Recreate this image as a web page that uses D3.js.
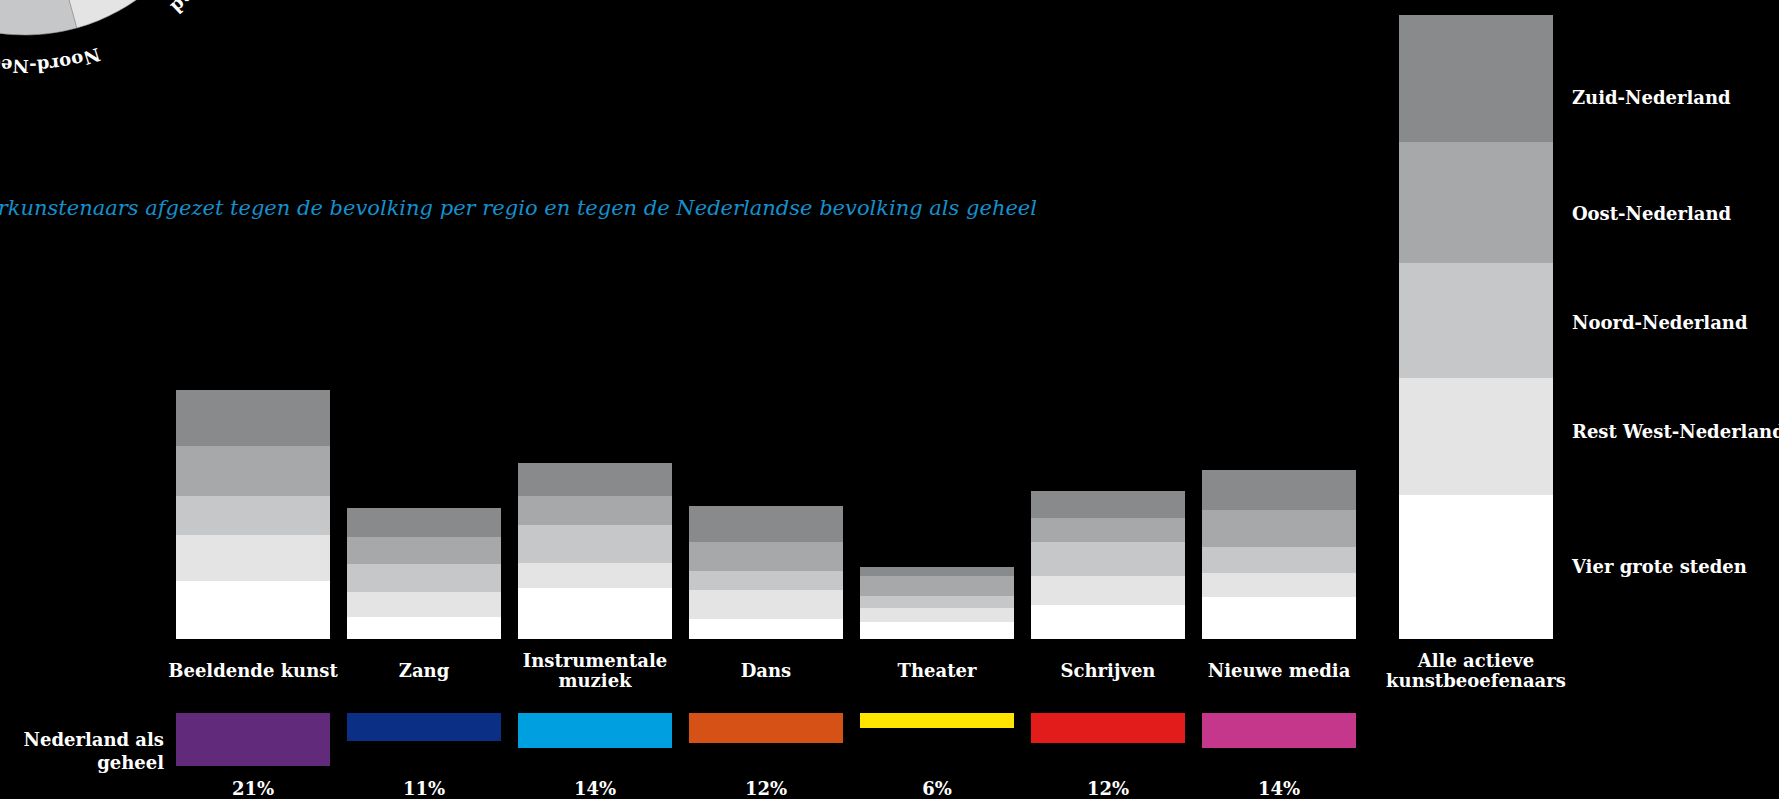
<!DOCTYPE html>
<html>
<head>
<meta charset="utf-8">
<script src="https://cdn.jsdelivr.net/npm/d3@7"></script>
<style>
  html, body { margin: 0; padding: 0; background: #000; overflow: hidden; }
  svg { display: block; }
  text { font-family: "DejaVu Serif", serif; }
</style>
</head>
<body>
<div id="chart"></div>
<script>
/**
 * DATA
 * */
const categories = ["Beeldende kunst", "Zang", "Instrumentale muziek", "Dans", "Theater", "Schrijven", "Nieuwe media"];
const categoryLines = [["Beeldende kunst"], ["Zang"], ["Instrumentale", "muziek"], ["Dans"], ["Theater"], ["Schrijven"], ["Nieuwe media"]];
const regions = ["Vier grote steden", "Rest West-Nederland", "Noord-Nederland", "Oost-Nederland", "Zuid-Nederland"];

// percentage per regio, per discipline
const vierGroteSteden = [24.2, 9.2, 21.3, 8.3, 7.1, 14.2, 17.5];
const restWest        = [19.2, 10.4, 10.4, 12.1, 5.8, 12.1, 10.0];
const noord           = [16.3, 11.7, 15.8, 7.9, 5.0, 14.2, 10.8];
const oost            = [20.8, 11.3, 12.1, 12.1, 8.3, 10.0, 15.4];
const zuid            = [23.3, 12.1, 13.8, 15.0, 3.8, 11.3, 16.7];

// alle actieve kunstbeoefenaars, per regio
const alleActieve = [60.0, 48.8, 47.9, 50.4, 52.9];
const alleLines = ["Alle actieve", "kunstbeoefenaars"];

// Nederland als geheel
const nationaal = [21, 11, 14, 12, 6, 12, 14];
const nationaalLabels = ["21%", "11%", "14%", "12%", "6%", "12%", "14%"];

// bevolking per regio (cirkel bovenaan, grotendeels buiten beeld)
const bevolkingAandeel = [15.9, 29.8, 10.6, 21.0, 22.7];

const subtitle = "Aandeel amateurkunstenaars afgezet tegen de bevolking per regio en tegen de Nederlandse bevolking als geheel";

/**
 * CONSTANTS
 * */
const width = 1779, height = 799;
const fontSize = 18;
const regionColors = ["#ffffff", "#e3e4e3", "#c6c7c8", "#a7a8a9", "#898a8b"];
const disciplineColors = ["#612a7a", "#0c2f86", "#009fe0", "#d65116", "#ffe500", "#e21b1b", "#c4378a"];
const legendBaselines = [573, 438, 329, 220, 104];

const svg = d3.select("#chart")
  .append("svg")
  .attr("width", width)
  .attr("height", height);

const x = d3.scaleBand()
  .domain(categories)
  .range([167.5, 1364.5])
  .paddingInner(0.1)
  .paddingOuter(0.05);

const y = d3.scaleLinear()
  .domain([0, 260])
  .range([639, 15]);

const yNat = d3.scaleLinear()
  .domain([0, 21])
  .range([0, 53]);
const natTop = 713;

const alleLeft = x(categories[6]) + x.step() + 26;

const seriesArrays = [vierGroteSteden, restWest, noord, oost, zuid];
const rows = categories.map((c, i) => {
  const row = { category: c };
  regions.forEach((r, j) => { row[r] = seriesArrays[j][i]; });
  return row;
});
const stacked = d3.stack().keys(regions)(rows);

/**
 * PIE (top left, cut off)
 * */
const pieG = svg.append("g").attr("transform", "translate(25,-159)");
const pieData = d3.pie().sort(null).value(d => d)(bevolkingAandeel);
const arc = d3.arc().innerRadius(0).outerRadius(194);
pieG.selectAll("path.slice")
  .data(pieData)
  .join("path")
  .attr("class", "slice")
  .attr("d", arc)
  .attr("fill", (d, i) => regionColors[i])
  .attr("stroke", "#9c9c9c")
  .attr("stroke-width", 0.6);

const labelR = 219;
const pt = a => [labelR * Math.sin(a), -labelR * Math.cos(a)];
pieG.selectAll("path.guide")
  .data(pieData)
  .join("path")
  .attr("class", "guide")
  .attr("id", (d, i) => "guide" + i)
  .attr("fill", "none")
  .attr("d", d => {
    const mid = (d.startAngle + d.endAngle) / 2;
    const p0 = pt(mid - Math.PI / 2), p1 = pt(mid + Math.PI / 2);
    return `M${p0[0]},${p0[1]} A${labelR},${labelR} 0 0 1 ${p1[0]},${p1[1]}`;
  });
pieG.selectAll("text.pielabel")
  .data(pieData)
  .join("text")
  .attr("class", "pielabel")
  .attr("fill", "#fff")
  .attr("font-size", fontSize)
  .attr("font-weight", "bold")
  .append("textPath")
  .attr("href", (d, i) => "#guide" + i)
  .attr("startOffset", "50%")
  .attr("text-anchor", "middle")
  .text((d, i) => regions[i]);

/**
 * SUBTITLE
 * */
svg.append("text")
  .attr("x", 1037)
  .attr("y", 215)
  .attr("text-anchor", "end")
  .attr("font-size", 21)
  .attr("font-style", "italic")
  .attr("fill", "#1590cf")
  .text(subtitle);

/**
 * STACKED BARS
 * */
svg.selectAll("g.layer")
  .data(stacked)
  .join("g")
  .attr("class", "layer")
  .attr("fill", (d, i) => regionColors[i])
  .selectAll("rect")
  .data(d => d)
  .join("rect")
  .attr("shape-rendering", "crispEdges")
  .attr("x", d => x(d.data.category))
  .attr("width", x.bandwidth())
  .attr("y", d => y(d[1]))
  .attr("height", d => y(d[0]) - y(d[1]));

// alle actieve kunstbeoefenaars
const alleStack = d3.cumsum(alleActieve);
svg.selectAll("rect.alle")
  .data(alleActieve)
  .join("rect")
  .attr("class", "alle")
  .attr("shape-rendering", "crispEdges")
  .attr("x", alleLeft)
  .attr("width", x.bandwidth())
  .attr("y", (d, i) => y(alleStack[i]))
  .attr("height", d => y(0) - y(d))
  .attr("fill", (d, i) => regionColors[i]);

// legend
svg.selectAll("text.legend")
  .data(regions)
  .join("text")
  .attr("class", "legend")
  .attr("x", alleLeft + x.bandwidth() + 19)
  .attr("y", (d, i) => legendBaselines[i])
  .attr("fill", "#fff")
  .attr("font-size", fontSize)
  .attr("font-weight", "bold")
  .text(d => d);

/**
 * CATEGORY LABELS
 * */
function multiLine(sel, lines, cx, midBaseline) {
  const t = sel.append("text")
    .attr("text-anchor", "middle")
    .attr("fill", "#fff")
    .attr("font-size", fontSize)
    .attr("font-weight", "bold");
  lines.forEach((l, k) => {
    t.append("tspan")
      .attr("x", cx)
      .attr("y", midBaseline + (k - (lines.length - 1) / 2) * 20)
      .text(l);
  });
}
categories.forEach((c, i) => {
  multiLine(svg, categoryLines[i], x(c) + x.bandwidth() / 2, 677);
});
multiLine(svg, alleLines, alleLeft + x.bandwidth() / 2, 677);

/**
 * NEDERLAND ALS GEHEEL
 * */
svg.selectAll("rect.nat")
  .data(nationaal)
  .join("rect")
  .attr("class", "nat")
  .attr("shape-rendering", "crispEdges")
  .attr("x", (d, i) => x(categories[i]))
  .attr("width", x.bandwidth())
  .attr("y", natTop)
  .attr("height", d => yNat(d))
  .attr("fill", (d, i) => disciplineColors[i]);

svg.selectAll("text.natlabel")
  .data(nationaalLabels)
  .join("text")
  .attr("class", "natlabel")
  .attr("x", (d, i) => x(categories[i]) + x.bandwidth() / 2)
  .attr("y", 795)
  .attr("text-anchor", "middle")
  .attr("fill", "#fff")
  .attr("font-size", fontSize)
  .attr("font-weight", "bold")
  .text(d => d);

const natTitle = svg.append("text")
  .attr("text-anchor", "end")
  .attr("fill", "#fff")
  .attr("font-size", fontSize)
  .attr("font-weight", "bold");
natTitle.append("tspan").attr("x", 164).attr("y", 746).text("Nederland als");
natTitle.append("tspan").attr("x", 164).attr("y", 769).text("geheel");
</script>
</body>
</html>
